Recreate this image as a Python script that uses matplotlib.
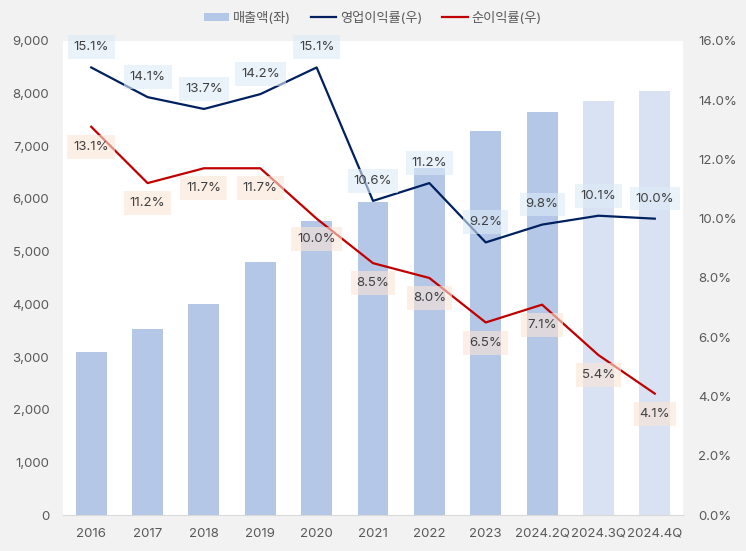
import numpy as np
import matplotlib.pyplot as plt
from matplotlib.patches import Patch
from matplotlib.lines import Line2D
from matplotlib.ticker import FuncFormatter

plt.rcParams['font.family'] = ['Inter', 'Noto Sans CJK KR', 'DejaVu Sans']

# ---- data ----
periods = ['2016', '2017', '2018', '2019', '2020', '2021', '2022', '2023',
           '2024.2Q', '2024.3Q', '2024.4Q']
revenue = [3090, 3540, 4010, 4810, 5590, 5940, 6580, 7290, 7640, 7860, 8050]
op_margin = [15.1, 14.1, 13.7, 14.2, 15.1, 10.6, 11.2, 9.2, 9.8, 10.1, 10.0]
net_margin = [13.1, 11.2, 11.7, 11.7, 10.0, 8.5, 8.0, 6.5, 7.1, 5.4, 4.1]
is_forecast = [False] * 9 + [True, True]

bar_color = '#B4C7E7'
bar_fc_color = '#D9E2F3'
op_color = '#002060'
net_color = '#C00000'
text_color = '#595959'

fig = plt.figure(figsize=(7.46, 5.51), dpi=100, facecolor='#F2F2F2')
ax = fig.add_axes([0.0845, 0.065, 0.831, 0.861])
ax.set_facecolor('white')
ax2 = ax.twinx()

x = np.arange(len(periods))
colors = [bar_fc_color if f else bar_color for f in is_forecast]
ax.bar(x, revenue, width=0.55, color=colors, zorder=1)

ax2.plot(x, op_margin, color=op_color, lw=1.6, zorder=3)
ax2.plot(x, net_margin, color=net_color, lw=1.6, zorder=3)

# data labels
for xi, v in zip(x, op_margin):
    ax2.annotate(f'{v:.1f}%', (xi, v), xytext=(0, 14.5), textcoords='offset points',
                 ha='center', va='center', fontsize=9.5, color='#404040', zorder=5,
                 bbox=dict(boxstyle='square,pad=0.45', fc='#DDEBF7', ec='none', alpha=0.6))
for xi, v in zip(x, net_margin):
    ax2.annotate(f'{v:.1f}%', (xi, v), xytext=(0, -14.5), textcoords='offset points',
                 ha='center', va='center', fontsize=9.5, color='#404040', zorder=5,
                 bbox=dict(boxstyle='square,pad=0.45', fc='#FBE5D6', ec='none', alpha=0.6))

ax.set_xlim(-0.5, len(periods) - 0.5)
ax.set_ylim(0, 9000)
ax.set_yticks(range(0, 9001, 1000))
ax.yaxis.set_major_formatter(FuncFormatter(lambda v, p: f'{int(v):,}'))
ax2.set_ylim(0, 16)
ax2.set_yticks(np.arange(0, 16.1, 2))
ax2.yaxis.set_major_formatter(FuncFormatter(lambda v, p: f'{v:.1f}%'))

ax.set_xticks(x)
ax.set_xticklabels(periods)

for a in (ax, ax2):
    for s in a.spines.values():
        s.set_visible(False)
    a.tick_params(length=0, labelsize=9.5, labelcolor=text_color)
ax.spines['bottom'].set_visible(True)
ax.spines['bottom'].set_color('#D9D9D9')
ax.tick_params(axis='y', pad=10)
ax2.tick_params(axis='y', pad=11)
ax.tick_params(axis='x', pad=9)

handles = [Patch(facecolor=bar_color, edgecolor='none', label='매출액(좌)'),
           Line2D([], [], color=op_color, lw=1.6, label='영업이익률(우)'),
           Line2D([], [], color=net_color, lw=1.6, label='순이익률(우)')]
fig.legend(handles=handles, loc='center', bbox_to_anchor=(0.5, 1 - 18 / 551), ncol=3,
           frameon=False, fontsize=9.5, labelcolor=text_color, handlelength=1.9,
           handleheight=0.5, columnspacing=1.5, handletextpad=0.3)

fig.savefig('out.png', dpi=100, facecolor=fig.get_facecolor())
